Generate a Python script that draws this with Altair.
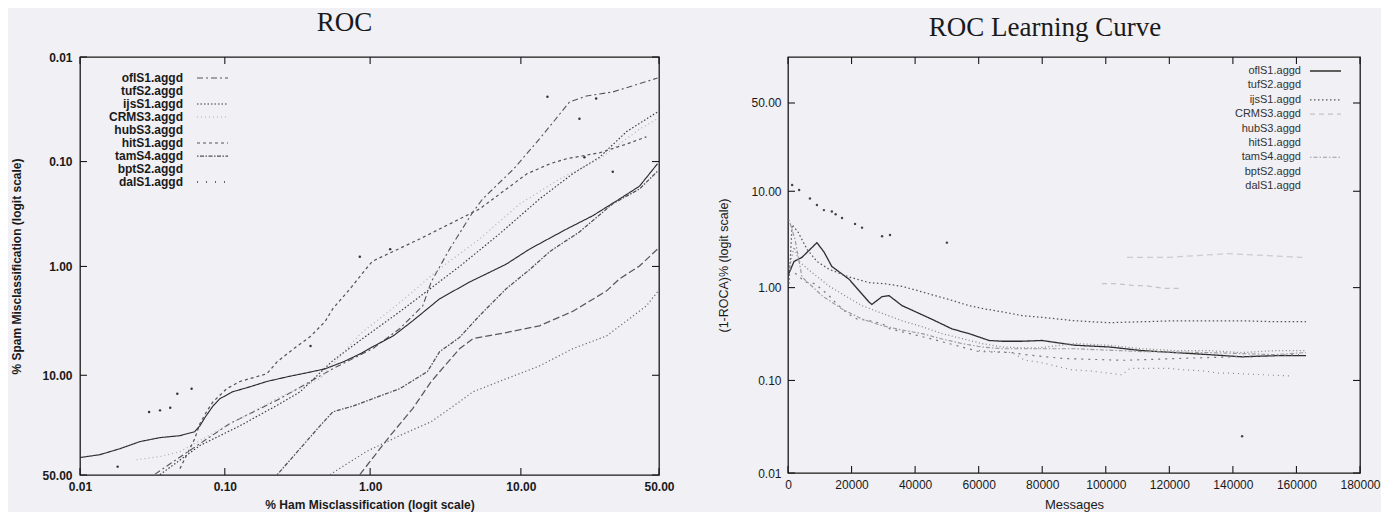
import math
import altair as alt
import pandas as pd

SERIES = ["oflS1.aggd", "tufS2.aggd", "ijsS1.aggd", "CRMS3.aggd", "hubS3.aggd",
          "hitS1.aggd", "tamS4.aggd", "bptS2.aggd", "dalS1.aggd"]

ROC_TICKS = [0.01, 0.10, 1.00, 10.00, 50.00]
LC_Y_TICKS = [0.01, 0.10, 1.00, 10.00, 50.00]
LC_X_TICKS = [0, 20000, 40000, 60000, 80000, 100000, 120000, 140000, 160000, 180000]

# ---------------- ROC panel: % ham misclassified vs % spam misclassified
roc_ofl_ham = [0.033, 0.057, 0.108, 0.24, 0.555, 1.04, 1.59, 2.28, 2.6, 3.45, 4.92, 5.7, 9.0, 13.0, 19.4, 24.0, 32.4, 42.3, 49.4]
roc_ofl_spam = [49.5, 36.9, 24.4, 15.7, 8.77, 5.83, 3.83, 2.35, 1.40, 0.685, 0.304, 0.228, 0.118, 0.0608, 0.027, 0.0236, 0.0216, 0.018, 0.0159]

roc_tuf_ham = [0.01, 0.0137, 0.0189, 0.0259, 0.0357, 0.049, 0.062, 0.0673, 0.0735, 0.083, 0.0925, 0.113, 0.15, 0.195, 0.27, 0.37,
               0.49, 0.66, 0.85, 1.04, 1.44, 1.95, 2.96, 4.7, 6.3, 8.1, 11.3, 18.7, 25.8, 34.8, 42.3, 49.4]
roc_tuf_spam = [40.5, 39.0, 35.9, 32.4, 30.5, 29.6, 27.8, 25.3, 21.7, 17.9, 15.7, 13.8, 12.5, 11.3, 10.3, 9.5,
                8.8, 7.6, 6.5, 5.6, 4.45, 3.24, 2.02, 1.40, 1.14, 0.95, 0.685, 0.441, 0.33, 0.228, 0.172, 0.105]

roc_ijs_ham = [0.0357, 0.0673, 0.127, 0.24, 0.33, 0.555, 0.94, 1.59, 2.45, 4.02, 7.33, 13.0, 20.2, 27.96, 37.4, 45.0, 49.4]
roc_ijs_spam = [49.8, 34.3, 25.3, 17.2, 13.8, 7.45, 4.46, 2.67, 1.70, 1.0, 0.49, 0.228, 0.131, 0.091, 0.0517, 0.0392, 0.0336]

roc_crm_ham = [0.0246, 0.0357, 0.049, 0.0673, 0.127, 0.24, 0.453, 0.85, 1.59, 2.96, 5.44, 9.81, 17.05, 28.0, 42.3, 49.4]
roc_crm_spam = [41.6, 40.0, 37.4, 31.9, 22.4, 15.2, 10.7, 4.3, 2.2, 1.05, 0.55, 0.255, 0.147, 0.094, 0.049, 0.039]

roc_hub_ham = [0.53, 0.94, 1.59, 2.6, 4.02, 4.92, 8.1, 13.0, 20.2, 30.3, 37.4, 45.0, 49.4]
roc_hub_spam = [49.8, 37.4, 29.6, 23.6, 16.6, 13.8, 10.7, 8.3, 5.83, 4.46, 3.24, 2.35, 1.74]

roc_hit_ham = [0.049, 0.062, 0.0673, 0.075, 0.083, 0.103, 0.127, 0.195, 0.23, 0.30, 0.39, 0.49, 0.555, 0.73, 0.94, 1.04,
               2.17, 5.44, 10.9, 15.0, 18.7, 27.96, 37.4, 45.0]
roc_hit_spam = [46.5, 31.0, 24.4, 19.8, 16.6, 13.0, 11.3, 9.7, 7.6, 5.8, 4.5, 3.3, 2.5, 1.62, 1.05, 0.89,
                0.549, 0.284, 0.131, 0.105, 0.094, 0.0825, 0.068, 0.058]

roc_tam_ham = [0.23, 0.33, 0.453, 0.555, 0.77, 1.04, 1.59, 2.45, 2.96, 4.02, 5.44, 8.1, 11.5, 15.0, 22.0, 32.4, 42.3, 49.4]
roc_tam_spam = [49.8, 35.9, 25.3, 19.9, 17.9, 15.7, 13.0, 9.3, 6.2, 4.6, 2.9, 1.62, 1.05, 0.72, 0.47, 0.253, 0.183, 0.124]

roc_bpt_ham = [0.85, 1.37, 1.95, 2.6, 4.02, 4.92, 8.1, 13.0, 20.2, 30.3, 34.8, 42.3, 49.4]
roc_bpt_spam = [49.8, 29.6, 18.8, 11.3, 5.83, 4.73, 4.15, 3.6, 2.65, 1.70, 1.31, 0.99, 0.685]

roc_dal_ham = [0.0182, 0.030, 0.0357, 0.042, 0.047, 0.059, 0.39, 0.85, 1.37, 14.5, 22.0, 23.4, 26.9, 32.4]
roc_dal_spam = [45.4, 20.0, 19.4, 18.5, 14.3, 13.0, 5.5, 0.81, 0.685, 0.024, 0.039, 0.091, 0.025, 0.125]

# ---------------- learning curve panel: messages vs (1-ROCA)%
lc_ofl_msgs = [0, 1900, 4400, 9100, 11300, 13800, 19200, 25500, 26400, 29600, 31800, 35900, 41200, 46300, 51600, 57000,
               63300, 67300, 73600, 79900, 90300, 101000, 111400, 121800, 132500, 142900, 153300, 163000]
lc_ofl_roca = [1.35, 1.9, 2.1, 3.0, 2.4, 1.68, 1.23, 0.70, 0.66, 0.80, 0.82, 0.64, 0.53, 0.44, 0.36, 0.32,
               0.27, 0.265, 0.265, 0.27, 0.24, 0.23, 0.21, 0.20, 0.19, 0.18, 0.185, 0.185]

lc_tuf_msgs = [300, 1900, 3500, 7550, 12900, 17900, 23300, 29600, 35900, 42200, 48500, 54800, 61000, 67300, 73600, 79000,
               90300, 101000, 111400, 121800, 132500, 142900, 153300, 163000]
lc_tuf_roca = [1.57, 2.7, 1.9, 1.45, 1.04, 0.82, 0.64, 0.53, 0.44, 0.38, 0.32, 0.283, 0.25, 0.23, 0.225, 0.225,
               0.25, 0.24, 0.22, 0.21, 0.21, 0.20, 0.21, 0.21]

lc_ijs_msgs = [300, 1300, 3100, 6000, 9100, 12900, 19200, 25500, 30500, 35900, 41200, 46300, 51600, 57000, 62000, 67300,
               73600, 79900, 90300, 101000, 111400, 121800, 130300, 142900, 153300, 163000]
lc_ijs_roca = [1.1, 4.6, 3.9, 2.55, 1.9, 1.57, 1.3, 1.13, 1.1, 1.03, 0.92, 0.82, 0.73, 0.64, 0.59, 0.55,
               0.50, 0.48, 0.44, 0.42, 0.43, 0.44, 0.44, 0.44, 0.43, 0.43]

lc_crm_msgs = [98800, 103000, 109200, 112400, 118600, 123000]
lc_crm_roca = [1.1, 1.1, 1.05, 1.05, 0.98, 0.98]

lc_hub_msgs = [106700, 119600, 138500, 150000, 161800]
lc_hub_roca = [2.1, 2.1, 2.3, 2.2, 2.1]

lc_hit_msgs = [600, 5350, 8500, 12900, 14800, 18600, 21700, 25800, 29600, 32100, 40000, 45300, 60100, 70500, 74600, 86200,
               105100, 160800]
lc_hit_roca = [1.6, 1.15, 1.1, 0.82, 0.70, 0.53, 0.46, 0.44, 0.41, 0.36, 0.31, 0.28, 0.205, 0.20, 0.19, 0.173,
               0.165, 0.19]

lc_tam_msgs = [300, 2200, 4400, 10700, 17000, 23300, 29600, 35900, 42200, 48500, 54800, 61000, 67300, 73600, 79000, 90300,
               111400, 132500, 153300, 163000]
lc_tam_roca = [5.2, 3.26, 1.3, 0.82, 0.59, 0.46, 0.39, 0.35, 0.32, 0.28, 0.25, 0.23, 0.22, 0.22, 0.22, 0.22,
               0.205, 0.20, 0.19, 0.20]

lc_bpt_msgs = [60100, 70500, 74600, 79000, 89400, 94700, 101000, 105100, 107600, 119900, 124900, 130300, 135600, 138800,
               150100, 157700]
lc_bpt_roca = [0.21, 0.20, 0.165, 0.158, 0.13, 0.127, 0.12, 0.115, 0.135, 0.135, 0.13, 0.127, 0.12, 0.12,
               0.115, 0.112]

lc_dal_msgs = [1300, 3500, 6900, 9100, 11300, 13800, 15000, 17000, 21100, 23300, 29600, 32100, 50000, 142900]
lc_dal_roca = [11.5, 10.3, 8.5, 7.3, 6.5, 6.3, 5.9, 5.4, 4.7, 4.3, 3.5, 3.6, 3.0, 0.025]

# ---------------- styles
ROC_COLORS = ["#555555", "#2a2a2a", "#3a3a3a", "#b0b0b0", "#6a6a6a", "#555555", "#505050", "#5a5a5a", "#333333"]
ROC_DASHES = [[6, 3, 2, 3], [1, 0], [1.5, 2], [1, 3], [1.2, 2.5], [3, 3], [1.5, 1.5, 4, 1.5], [7, 3], [1, 8]]
ROC_WIDTHS = [1.1, 1.3, 1.2, 1.0, 1.0, 1.1, 1.1, 1.1, 1.0]
ROC_KEYED = ["oflS1.aggd", "ijsS1.aggd", "CRMS3.aggd", "hitS1.aggd", "tamS4.aggd", "dalS1.aggd"]

LC_COLORS = ["#2e2e2e", "#8a8a8a", "#555555", "#c4c4c4", "#cccccc", "#777777", "#9a9a9a", "#888888", "#444444"]
LC_DASHES = [[1, 0], [1, 2.5], [1.5, 2.5], [5, 4], [6, 4], [2, 5], [1.5, 2, 4, 2], [1, 4], [1, 8]]
LC_WIDTHS = [1.3, 1.1, 1.2, 1.1, 1.1, 1.1, 1.1, 1.1, 1.0]
LC_KEYED = ["oflS1.aggd", "ijsS1.aggd", "CRMS3.aggd", "tamS4.aggd"]

SANS = "Liberation Sans"
SERIF = "Liberation Serif"
INK = "#1a1a1a"
BG = "#f0f0f5"
TICK = 7
W1, H1 = 579, 418
W2, H2 = 572, 416
LOGIT_LO = math.log(0.01 / 99.99)
LC_LOGIT_HI = 1.145
LABEL_EXPR = "format(100/(1+exp(-datum.value)), '.2f')"


def logit_pct(p):
    return math.log(p / (100.0 - p))


def long_frame(parts, xcol, ycol):
    rows = []
    for name, xs, ys in parts:
        for a, b in zip(xs, ys, strict=True):
            rows.append({"series": name, xcol: a, ycol: b})
    return pd.DataFrame(rows)


roc_df = long_frame([
    ("oflS1.aggd", roc_ofl_ham, roc_ofl_spam), ("tufS2.aggd", roc_tuf_ham, roc_tuf_spam),
    ("ijsS1.aggd", roc_ijs_ham, roc_ijs_spam), ("CRMS3.aggd", roc_crm_ham, roc_crm_spam),
    ("hubS3.aggd", roc_hub_ham, roc_hub_spam), ("hitS1.aggd", roc_hit_ham, roc_hit_spam),
    ("tamS4.aggd", roc_tam_ham, roc_tam_spam), ("bptS2.aggd", roc_bpt_ham, roc_bpt_spam),
    ("dalS1.aggd", roc_dal_ham, roc_dal_spam)], "ham", "spam")

lc_df = long_frame([
    ("oflS1.aggd", lc_ofl_msgs, lc_ofl_roca), ("tufS2.aggd", lc_tuf_msgs, lc_tuf_roca),
    ("ijsS1.aggd", lc_ijs_msgs, lc_ijs_roca), ("CRMS3.aggd", lc_crm_msgs, lc_crm_roca),
    ("hubS3.aggd", lc_hub_msgs, lc_hub_roca), ("hitS1.aggd", lc_hit_msgs, lc_hit_roca),
    ("tamS4.aggd", lc_tam_msgs, lc_tam_roca), ("bptS2.aggd", lc_bpt_msgs, lc_bpt_roca),
    ("dalS1.aggd", lc_dal_msgs, lc_dal_roca)], "msgs", "roca")

legend_df = pd.DataFrame({"series": SERIES, "rank": list(range(len(SERIES)))})


def style_enc(colors, dashes, widths):
    return dict(
        color=alt.Color("series:N", scale=alt.Scale(domain=SERIES, range=colors), legend=None),
        strokeDash=alt.StrokeDash("series:N", scale=alt.Scale(domain=SERIES, range=dashes), legend=None),
        strokeWidth=alt.StrokeWidth("series:N", scale=alt.Scale(domain=SERIES, range=widths), legend=None),
    )


def axis(title, values, bold, label_pad, title_pad, label_size, title_size, **kw):
    weight = "bold" if bold else "normal"
    return alt.Axis(values=values, title=title, ticks=False, domain=False, grid=False,
                    labelFlush=False, labelOverlap=False, labelFont=SANS, labelFontSize=label_size,
                    labelFontWeight=weight, labelColor=INK, labelPadding=label_pad,
                    titleFont=SANS, titleFontSize=title_size, titleFontWeight=weight,
                    titleColor=INK, titlePadding=title_pad, **kw)


# ================= left: ROC
roc_xs = alt.Scale(domain=[LOGIT_LO, 0], nice=False, zero=False)
roc_ys = alt.Scale(domain=[LOGIT_LO, 0], nice=False, zero=False, reverse=True)
roc_tv = [logit_pct(t) for t in ROC_TICKS]
roc_x_axis = axis("% Ham Misclassification (logit scale)", roc_tv, True, 6, 7, 12, 12, labelExpr=LABEL_EXPR)
roc_y_axis = axis("% Spam Misclassification (logit scale)", roc_tv, True, 8, 18, 12, 12, labelExpr=LABEL_EXPR)
roc_X = alt.X("lx:Q", scale=roc_xs, axis=roc_x_axis)

roc_base = alt.Chart(roc_df).transform_calculate(
    lx="log(datum.ham/(100-datum.ham))", ly="log(datum.spam/(100-datum.spam))")

roc_lines = roc_base.transform_filter(alt.datum.series != "dalS1.aggd").mark_line(clip=True).encode(
    x=roc_X, y=alt.Y("ly:Q", scale=roc_ys, axis=roc_y_axis),
    **style_enc(ROC_COLORS, ROC_DASHES, ROC_WIDTHS))

roc_dots = roc_base.transform_filter(alt.datum.series == "dalS1.aggd").mark_circle(
    size=6, opacity=1, color="#333333", clip=True).encode(
    x=roc_X, y=alt.Y("ly:Q", scale=roc_ys, axis=None))

roc_xt = alt.Chart(pd.DataFrame({"t": ROC_TICKS})).transform_calculate(lx="log(datum.t/(100-datum.t))")
roc_yt = alt.Chart(pd.DataFrame({"t": ROC_TICKS})).transform_calculate(ly="log(datum.t/(100-datum.t))")
roc_ticks = [
    roc_xt.mark_rule(color=INK, strokeWidth=1.1).encode(x=roc_X, y=alt.value(0), y2=alt.value(TICK)),
    roc_xt.mark_rule(color=INK, strokeWidth=1.1).encode(x=roc_X, y=alt.value(H1), y2=alt.value(H1 - TICK)),
    roc_yt.mark_rule(color=INK, strokeWidth=1.1).encode(
        y=alt.Y("ly:Q", scale=roc_ys, axis=None), x=alt.value(0), x2=alt.value(TICK)),
    roc_yt.mark_rule(color=INK, strokeWidth=1.1).encode(
        y=alt.Y("ly:Q", scale=roc_ys, axis=None), x=alt.value(W1), x2=alt.value(W1 - TICK)),
]

roc_leg_y = alt.Y("rank:Q", scale=alt.Scale(domain=[0, 8], range=[21, 125]), axis=None)
roc_leg_text = alt.Chart(legend_df).mark_text(
    align="right", baseline="middle", font=SANS, fontSize=12, fontWeight="bold", color=INK).encode(
    x=alt.value(103), y=roc_leg_y, text="series:N")
roc_leg_keys = alt.Chart(legend_df).transform_filter(
    alt.FieldOneOfPredicate(field="series", oneOf=ROC_KEYED)).mark_rule().encode(
    x=alt.value(117), x2=alt.value(148), y=roc_leg_y, **style_enc(ROC_COLORS, ROC_DASHES, ROC_WIDTHS))

left = alt.layer(roc_lines, roc_dots, *roc_ticks, roc_leg_keys, roc_leg_text).resolve_scale(
    y="independent").properties(
    width=W1, height=H1,
    title=alt.TitleParams("ROC", font=SERIF, fontSize=27, fontWeight="normal", color=INK,
                          anchor="middle", dx=-25, offset=14))

# ================= right: ROC learning curve
lc_xs = alt.Scale(domain=[0, 180000], nice=False, zero=False)
lc_ys = alt.Scale(domain=[LOGIT_LO, LC_LOGIT_HI], nice=False, zero=False)
lc_tv = [logit_pct(t) for t in LC_Y_TICKS]
lc_x_axis = axis("Messages", LC_X_TICKS, False, 6, 8, 12, 13, format="d")
lc_y_axis = axis("(1-ROCA)% (logit scale)", lc_tv, False, 7, 20, 12, 12.5, labelExpr=LABEL_EXPR)
lc_X = alt.X("msgs:Q", scale=lc_xs, axis=lc_x_axis)

lc_base = alt.Chart(lc_df).transform_calculate(ly="log(datum.roca/(100-datum.roca))")

lc_lines = lc_base.transform_filter(alt.datum.series != "dalS1.aggd").mark_line(clip=True).encode(
    x=lc_X, y=alt.Y("ly:Q", scale=lc_ys, axis=lc_y_axis),
    **style_enc(LC_COLORS, LC_DASHES, LC_WIDTHS))

lc_dots = lc_base.transform_filter(alt.datum.series == "dalS1.aggd").mark_circle(
    size=6, opacity=1, color="#444444", clip=True).encode(
    x=lc_X, y=alt.Y("ly:Q", scale=lc_ys, axis=None))

lc_xt = alt.Chart(pd.DataFrame({"msgs": LC_X_TICKS}))
lc_yt = alt.Chart(pd.DataFrame({"t": LC_Y_TICKS})).transform_calculate(ly="log(datum.t/(100-datum.t))")
lc_ticks = [
    lc_xt.mark_rule(color=INK, strokeWidth=1.1).encode(x=lc_X, y=alt.value(0), y2=alt.value(TICK)),
    lc_xt.mark_rule(color=INK, strokeWidth=1.1).encode(x=lc_X, y=alt.value(H2), y2=alt.value(H2 - TICK)),
    lc_yt.mark_rule(color=INK, strokeWidth=1.1).encode(
        y=alt.Y("ly:Q", scale=lc_ys, axis=None), x=alt.value(0), x2=alt.value(TICK)),
    lc_yt.mark_rule(color=INK, strokeWidth=1.1).encode(
        y=alt.Y("ly:Q", scale=lc_ys, axis=None), x=alt.value(W2), x2=alt.value(W2 - TICK)),
]

lc_leg_y = alt.Y("rank:Q", scale=alt.Scale(domain=[0, 8], range=[14, 129]), axis=None)
lc_leg_text = alt.Chart(legend_df).mark_text(
    align="right", baseline="middle", font=SANS, fontSize=11, color="#333333").encode(
    x=alt.value(513), y=lc_leg_y, text="series:N")
lc_leg_keys = alt.Chart(legend_df).transform_filter(
    alt.FieldOneOfPredicate(field="series", oneOf=LC_KEYED)).mark_rule().encode(
    x=alt.value(522), x2=alt.value(553), y=lc_leg_y, **style_enc(LC_COLORS, LC_DASHES, LC_WIDTHS))

right = alt.layer(lc_lines, lc_dots, *lc_ticks, lc_leg_keys, lc_leg_text).resolve_scale(
    y="independent").properties(
    width=W2, height=H2,
    title=alt.TitleParams("ROC Learning Curve", font=SERIF, fontSize=27, fontWeight="normal", color=INK,
                          anchor="middle", dx=-29, offset=14))

chart = alt.hconcat(left, right, spacing=42).resolve_scale(
    color="independent", strokeDash="independent", strokeWidth="independent"
).properties(
    padding={"left": 2, "top": 0, "right": 0, "bottom": 0}
).configure(background=BG, font=SANS).configure_view(stroke=INK, strokeWidth=1.3)

chart.save("out.html", embed_options={"renderer": "svg", "actions": False})
